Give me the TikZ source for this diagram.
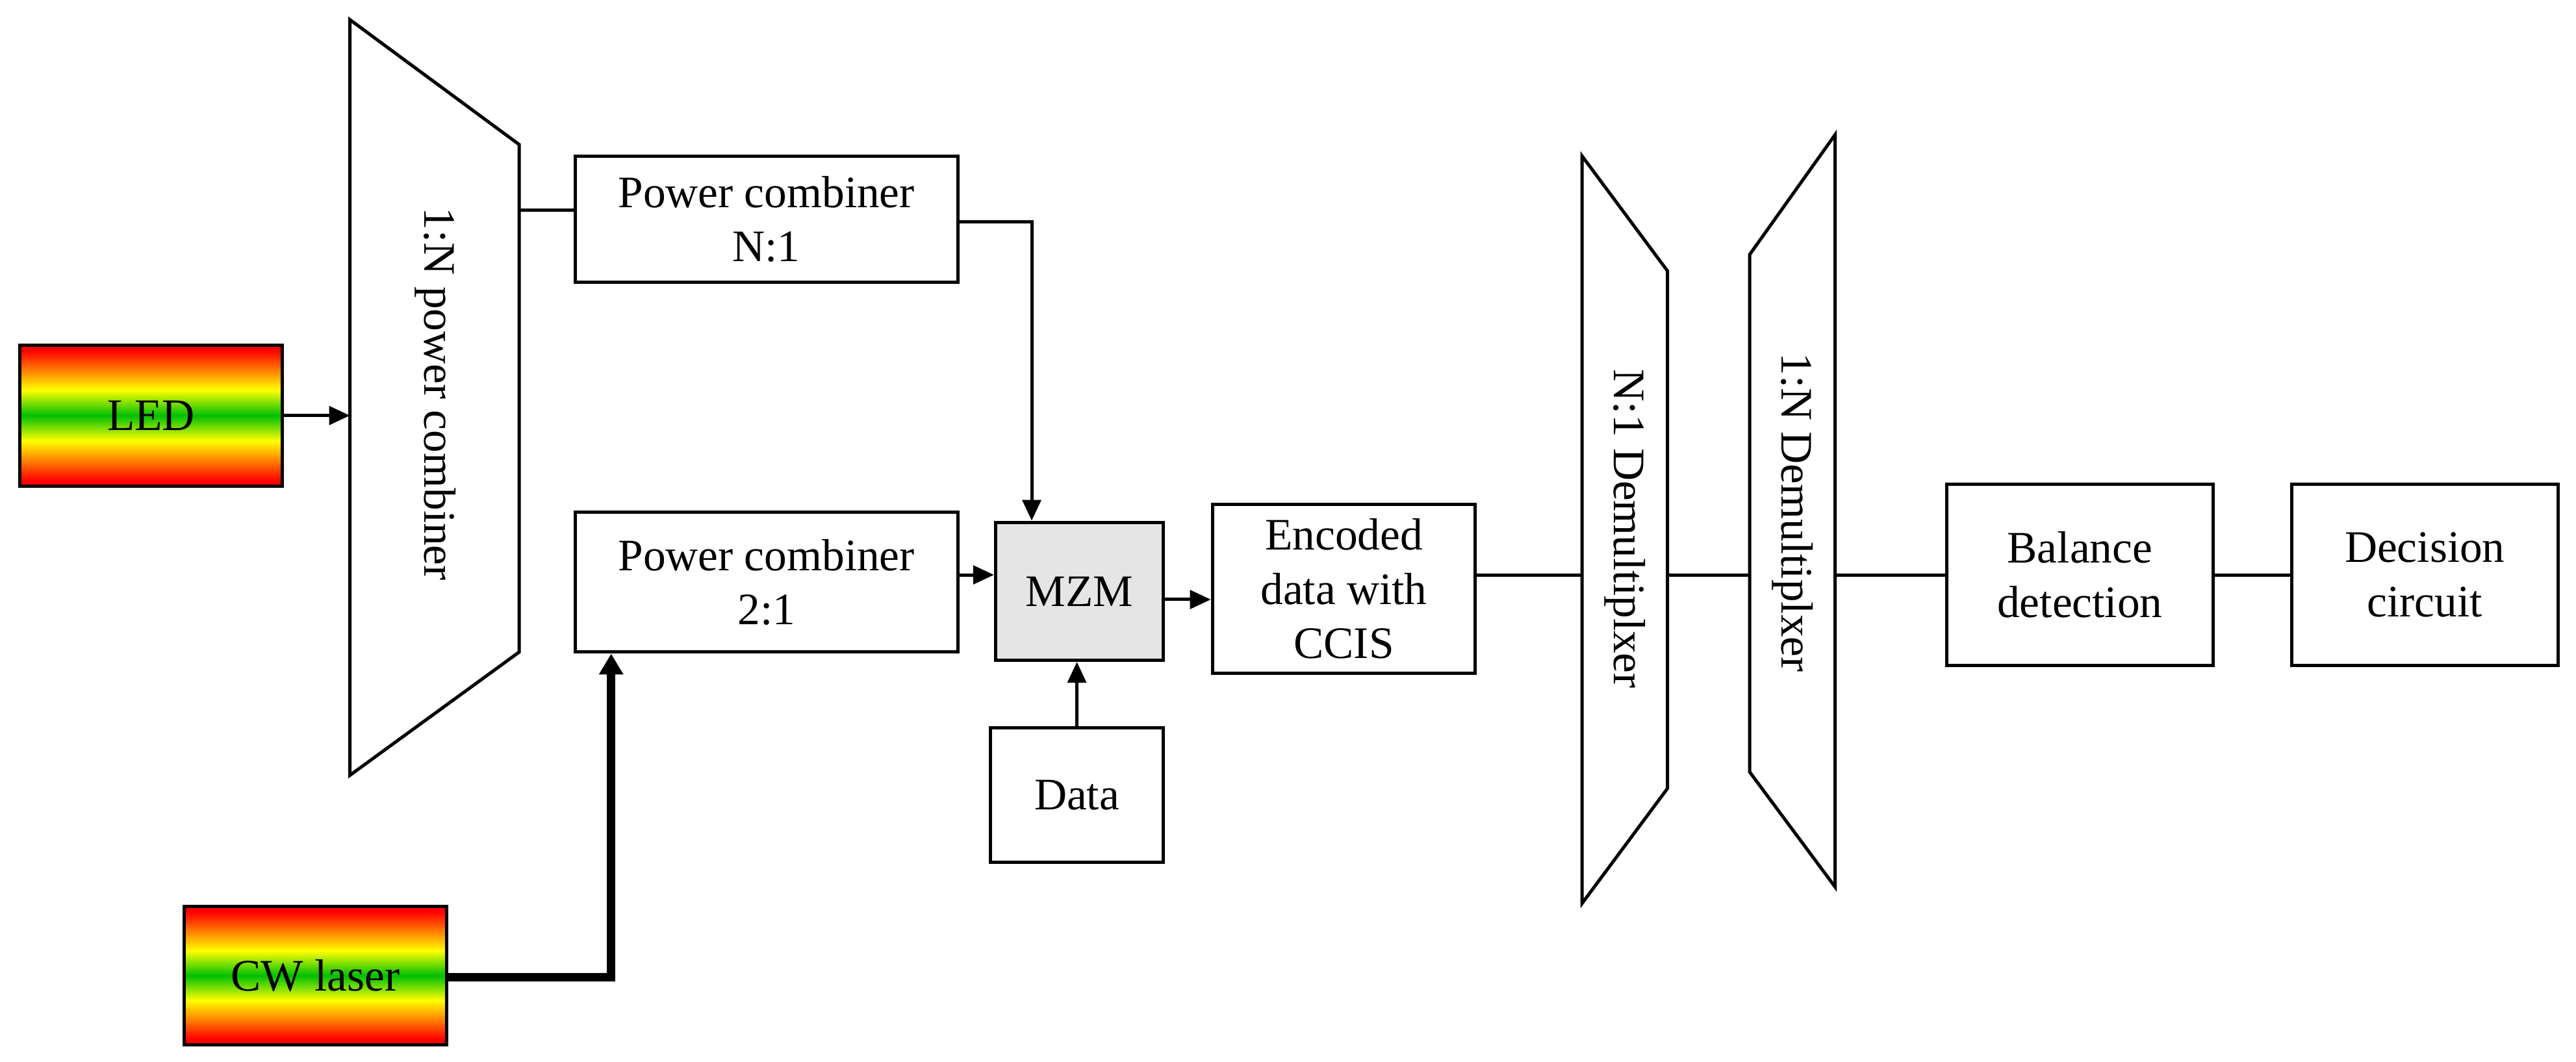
\documentclass[tikz,border=0pt]{standalone}
\usepackage{fontspec}
\setmainfont{Liberation Serif}
\usetikzlibrary{arrows.meta}
\pgfdeclareverticalshading{rainbow}{100bp}{color(0bp)=(red);color(27bp)=(red);color(41bp)=(yellow);color(50bp)=(green!75!black);color(59bp)=(yellow);color(73bp)=(red);color(100bp)=(red)}
\begin{document}
\begin{tikzpicture}[x=0.025cm,y=-0.025cm,
  ln/.style={line width=1.4pt},
  arr/.style={ln,-{Triangle[length=9pt,width=8pt]}},
  box/.style={draw,line width=1.4pt,align=center,font=\fontsize{19.5}{23.5}\selectfont},
  src/.style={draw,line width=1.4pt,shading=rainbow,font=\fontsize{19.5}{23.5}\selectfont},
  txt/.style={font=\fontsize{19.5}{23.5}\selectfont}]
\useasboundingbox (0,0) rectangle (1568,646.5);
% trapezoids
\draw[ln] (213,12) -- (316,88) -- (316,397) -- (213,472) -- cycle;
\node[txt,rotate=-90] (pc) at (265,240) {1:N power combiner};
\draw[ln] (963,95) -- (1015,165) -- (1015,480) -- (963,550) -- cycle;
\node[txt,rotate=-90] (dm1) at (989,322) {N:1 Demultiplxer};
\draw[ln] (1065,155) -- (1117,82) -- (1117,540) -- (1065,470) -- cycle;
\node[txt,rotate=-90] (dm2) at (1091,312) {1:N Demultiplxer};
\coordinate (pcL) at (213,253);
\coordinate (pcR) at (316,128);
\coordinate (d1L) at (963,350);
\coordinate (d1R) at (1015,350);
\coordinate (d2L) at (1065,350);
\coordinate (d2R) at (1117,350);
% sources
\node[src,minimum width=160*0.025cm,minimum height=86*0.025cm] (led) at (92,253) {LED};
\node[src,minimum width=160*0.025cm,minimum height=84*0.025cm] (cw) at (192,594) {CW laser};
% boxes
\node[box,minimum width=233*0.025cm,minimum height=77*0.025cm] (pcn) at (466.5,133.5) {Power combiner\\N:1};
\node[box,minimum width=233*0.025cm,minimum height=85*0.025cm] (pc2) at (466.5,354.5) {Power combiner\\2:1};
\node[box,fill=gray!20,minimum width=102*0.025cm,minimum height=84*0.025cm] (mzm) at (657,360) {MZM};
\node[box,minimum width=105*0.025cm,minimum height=82*0.025cm] (data) at (655.5,484) {Data};
\node[box,minimum width=160*0.025cm,minimum height=103*0.025cm] (enc) at (818,358.5) {Encoded\\data with\\CCIS};
\node[box,minimum width=162*0.025cm,minimum height=110*0.025cm] (bal) at (1266,350) {Balance\\detection};
\node[box,minimum width=162*0.025cm,minimum height=110*0.025cm] (dec) at (1476,350) {Decision\\circuit};
% connectors
\draw[arr] (led.east|-pcL) -- (pcL);
\draw[ln] (pcR) -- (pcn.west|-pcR);
\draw[arr] (pcn.east|-0,135) -| (mzm.north-|628,0);
\draw[arr] (pc2.east|-0,350) -- (mzm.west|-0,350);
\draw[arr] (mzm.east|-0,365) -- (enc.west|-0,365);
\draw[arr] (data.north) -- (mzm.south-|data.north);
\draw[line width=3.5pt,-{Triangle[length=9pt,width=10pt]}] (cw.east|-0,595) -| (pc2.south-|372,0);
\draw[ln] (enc.east|-d1L) -- (d1L);
\draw[ln] (d1R) -- (d2L);
\draw[ln] (d2R) -- (bal.west);
\draw[ln] (bal.east) -- (dec.west);
\end{tikzpicture}
\end{document}
